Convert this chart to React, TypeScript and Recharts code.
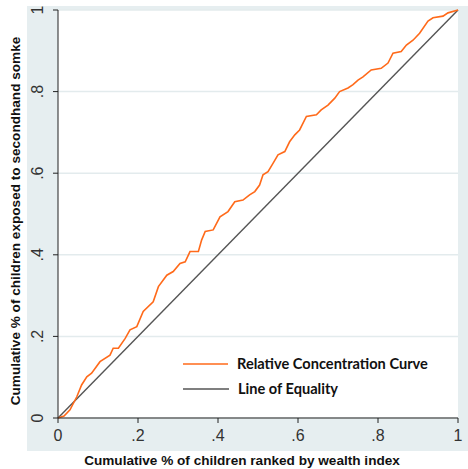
import React from 'react';
import { LineChart, Line, XAxis, YAxis, CartesianGrid } from 'recharts';

// cumulative share of children (ranked by wealth) vs share exposed
const curveX = [0, 0.015, 0.03, 0.047, 0.059, 0.072, 0.084, 0.105, 0.13, 0.138, 0.151, 0.168, 0.18, 0.197, 0.213, 0.238, 0.251, 0.272, 0.288, 0.305, 0.318, 0.33, 0.351, 0.359, 0.368, 0.388, 0.405, 0.425, 0.442, 0.4625, 0.479, 0.492, 0.504, 0.5125, 0.525, 0.5375, 0.55, 0.567, 0.579, 0.592, 0.604, 0.621, 0.646, 0.658, 0.675, 0.692, 0.704, 0.725, 0.7375, 0.75, 0.7625, 0.783, 0.808, 0.825, 0.8375, 0.858, 0.871, 0.8875, 0.904, 0.925, 0.9375, 0.9625, 0.975, 1];
const curveY = [0, 0.005, 0.02, 0.052, 0.081, 0.101, 0.11, 0.138, 0.154, 0.171, 0.171, 0.195, 0.216, 0.224, 0.261, 0.285, 0.322, 0.35, 0.359, 0.379, 0.383, 0.408, 0.408, 0.436, 0.457, 0.461, 0.493, 0.506, 0.53, 0.534, 0.547, 0.555, 0.571, 0.596, 0.604, 0.624, 0.645, 0.653, 0.677, 0.694, 0.706, 0.739, 0.743, 0.755, 0.767, 0.784, 0.8, 0.809, 0.817, 0.828, 0.836, 0.853, 0.857, 0.87, 0.894, 0.898, 0.914, 0.926, 0.943, 0.973, 0.981, 0.985, 0.993, 1];
const equalityX = [0, 1];
const equalityY = [0, 1];
const ticks = [0, 0.2, 0.4, 0.6, 0.8, 1];
const tickLabels = ['0', '.2', '.4', '.6', '.8', '1'];

const curveData = curveX.map((x, i) => ({ x, y: curveY[i] }));
const equalityData = equalityX.map((x, i) => ({ x, y: equalityY[i] }));

const font = '"Liberation Sans", Arial, sans-serif';
const bg = '#e6eef0';
const fmt = (v: number) => tickLabels[ticks.indexOf(v)] ?? String(v);

const YTick = (props: any) => {
  const { x, y, payload } = props;
  return (
    <text x={x - 8} y={y} transform={`rotate(-90 ${x - 8} ${y})`} textAnchor="middle" fontSize={16} fill="#333" fontFamily={font}>
      {fmt(payload.value)}
    </text>
  );
};

export default function App() {
  return (
    <div style={{ position: 'fixed', left: 0, top: 0, width: 468, height: 469, overflow: 'hidden' }}>
      <LineChart width={468} height={469} margin={{ top: 10, right: 10, left: 27, bottom: 18 }} style={{ background: bg }}>
        <CartesianGrid horizontal vertical={false} stroke="#e3ebed" strokeWidth={1.5} fill="#fff" fillOpacity={1} />
        <XAxis
          type="number"
          dataKey="x"
          domain={[0, 1]}
          ticks={ticks}
          tickFormatter={fmt}
          height={33}
          stroke="#222"
          tickSize={5}
          tick={{ fontSize: 16, fill: '#333', fontFamily: font, dy: 5 }}
          allowDuplicatedCategory={false}
        />
        <YAxis
          type="number"
          dataKey="y"
          domain={[0, 1]}
          ticks={ticks}
          width={31}
          stroke="#222"
          tickSize={5}
          tick={<YTick />}
        />
        <Line data={equalityData} dataKey="y" stroke="#555" strokeWidth={1.4} dot={false} isAnimationActive={false} />
        <Line data={curveData} dataKey="y" stroke="#ff6a1a" strokeWidth={1.6} dot={false} isAnimationActive={false} />
      </LineChart>
      <svg style={{ position: 'absolute', left: 0, top: 0 }} width={468} height={469}>
        <rect x={0} y={0} width={27} height={469} fill="#fff" />
        <rect x={0} y={0} width={468} height={6} fill="#fff" />
        <rect x={0} y={451} width={468} height={18} fill="#fff" />
        <rect x={180} y={350} width={276} height={50} fill="#fff" />
        <line x1={183} x2={228} y1={364} y2={364} stroke="#ff6a1a" strokeWidth={1.6} />
        <line x1={183} x2={229} y1={389} y2={389} stroke="#555" strokeWidth={1.4} />
        <text x={237} y={369} fontSize={14.6} fontWeight={700} fontFamily="Lato, sans-serif" fill="#111">Relative Concentration Curve</text>
        <text x={238} y={394} fontSize={14.6} fontWeight={700} fontFamily="Lato, sans-serif" fill="#111">Line of Equality</text>
        <text x={242} y={465} textAnchor="middle" fontSize={13.6} fontWeight={700} fontFamily={font} fill="#111">Cumulative % of children ranked by wealth index</text>
        <text x={20} y={221} textAnchor="middle" transform="rotate(-90 20 221)" fontSize={13.6} fontWeight={700} fontFamily={font} fill="#111">Cumulative % of children exposed to secondhand somke</text>
      </svg>
    </div>
  );
}
